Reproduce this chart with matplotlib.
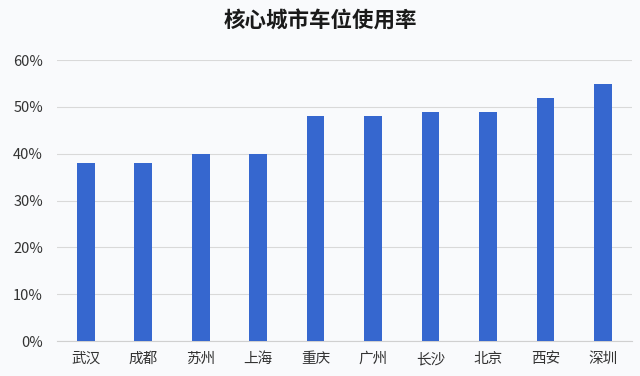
import matplotlib
matplotlib.use("Agg")
import matplotlib.pyplot as plt
from matplotlib.ticker import FuncFormatter

plt.rcParams['font.family'] = ['Noto Sans CJK SC', 'DejaVu Sans']

cities = ["武汉", "成都", "苏州", "上海", "重庆", "广州", "长沙", "北京", "西安", "深圳"]
usage = [38, 38, 40, 40, 48, 48, 49, 49, 52, 55]
yticks = [0, 10, 20, 30, 40, 50, 60]

bg = "#f9fafc"
fig = plt.figure(figsize=(6.4, 3.76), dpi=100, facecolor=bg)
ax = fig.add_axes([0.089, 0.093, 0.898, 0.747], facecolor=bg)

x = range(len(cities))
ax.bar(x, usage, width=0.31, color="#3667cf", zorder=3)

ax.set_ylim(0, 60)
ax.set_xlim(-0.5, len(cities) - 0.5)
ax.set_yticks(yticks)
ax.yaxis.set_major_formatter(FuncFormatter(lambda v, p: f"{int(v)}%"))
ax.set_xticks(list(x))
ax.set_xticklabels(cities)
ax.grid(axis="y", color="#d9d9d9", linewidth=0.8, zorder=0)
for s in ["top", "right", "left"]:
    ax.spines[s].set_visible(False)
ax.spines["bottom"].set_color("#d0d0d0")
ax.tick_params(axis="both", length=0, labelsize=10.5, colors="#333333")
ax.tick_params(axis="x", pad=8)
ax.tick_params(axis="y", pad=10)

fig.text(0.5, 0.945, "核心城市车位使用率", ha="center", va="center",
         fontsize=15.5, fontweight="bold", color="#1a1a1a")

fig.savefig("out.png", dpi=100, facecolor=bg)
